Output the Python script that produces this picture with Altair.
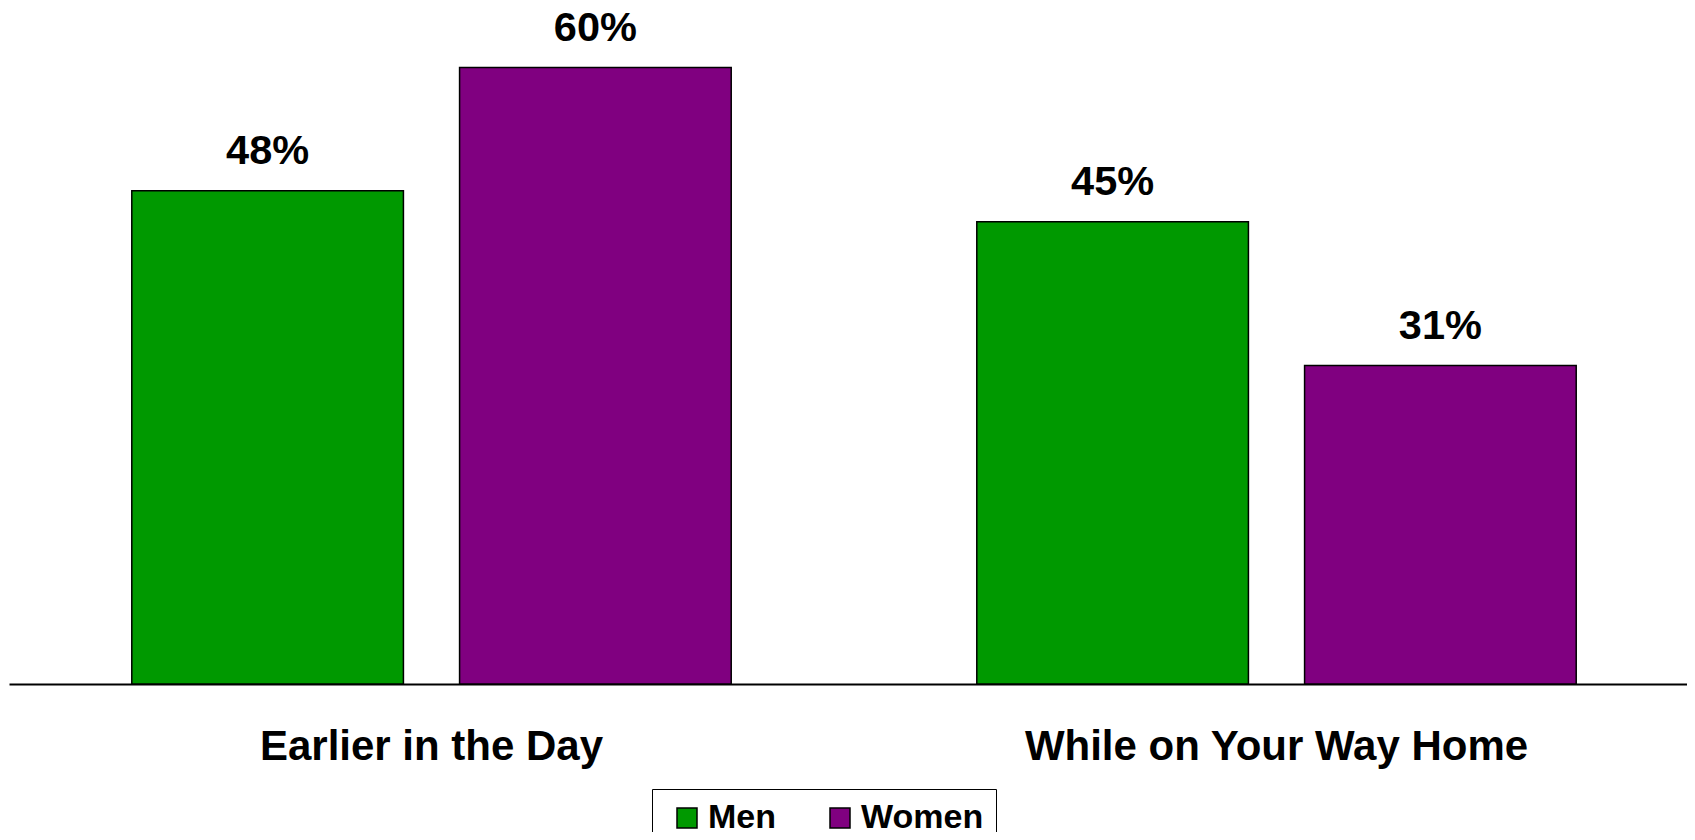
import altair as alt
import pandas as pd

categories = ["Earlier in the Day", "While on Your Way Home"]
groups = ["Men", "Women"]
men_values = [48, 45]
women_values = [60, 31]
colors = ["#009900", "#800080"]

rows = []
for i, cat in enumerate(categories):
    for g, vals in zip(groups, [men_values, women_values]):
        rows.append({"category": cat, "group": g, "value": vals[i], "label": f"{vals[i]}%"})
df = pd.DataFrame(rows)

FONT = "Liberation Sans"

base = alt.Chart(df).encode(
    x=alt.X(
        "category:N",
        sort=categories,
        scale=alt.Scale(paddingInner=0, paddingOuter=0, range=[0, 1690]),
        axis=alt.Axis(
            title=None,
            labelAngle=0,
            ticks=False,
            tickSize=0,
            labelPadding=42,
            labelLimit=1000,
            labelFontSize=42,
            labelFont=FONT,
            labelFontWeight="bold",
            labelColor="black",
            domainColor="black",
            domainWidth=2,
            grid=False,
        ),
    ),
    xOffset=alt.XOffset(
        "group:N",
        sort=groups,
        scale=alt.Scale(paddingInner=0.1713, paddingOuter=0.3746),
    ),
    y=alt.Y(
        "value:Q",
        scale=alt.Scale(domain=[0, 65.8], nice=False, zero=True),
        axis=None,
    ),
)

bars = base.mark_bar(stroke="black", strokeWidth=1.5).encode(
    color=alt.Color(
        "group:N",
        sort=groups,
        scale=alt.Scale(domain=groups, range=colors),
        legend=alt.Legend(
            title=None,
            orient="none",
            direction="horizontal",
            legendX=643,
            legendY=781,
            symbolType="square",
            symbolSize=400,
            symbolStrokeColor="black",
            symbolStrokeWidth=1.5,
            symbolOffset=6,
            labelFont=FONT,
            labelFontSize=34,
            labelFontWeight="bold",
            labelColor="black",
            labelOffset=4,
            columnPadding=41,
            padding=12,
            strokeColor="black",
            fillColor="white",
        ),
    )
)

labels = base.mark_text(
    baseline="alphabetic",
    dy=-27,
    font=FONT,
    fontSize=41.5,
    fontWeight="bold",
    color="black",
).encode(text="label:N")

chart = (
    alt.layer(bars, labels)
    .properties(
        width=1678,
        height=676,
        padding={"left": 1, "top": 0, "right": 0, "bottom": 148},
        autosize=alt.AutoSizeParams(type="none"),
        background="white",
    )
    .configure_view(stroke=None)
)

chart.save("out.html", embed_options={"renderer": "svg", "actions": False})
